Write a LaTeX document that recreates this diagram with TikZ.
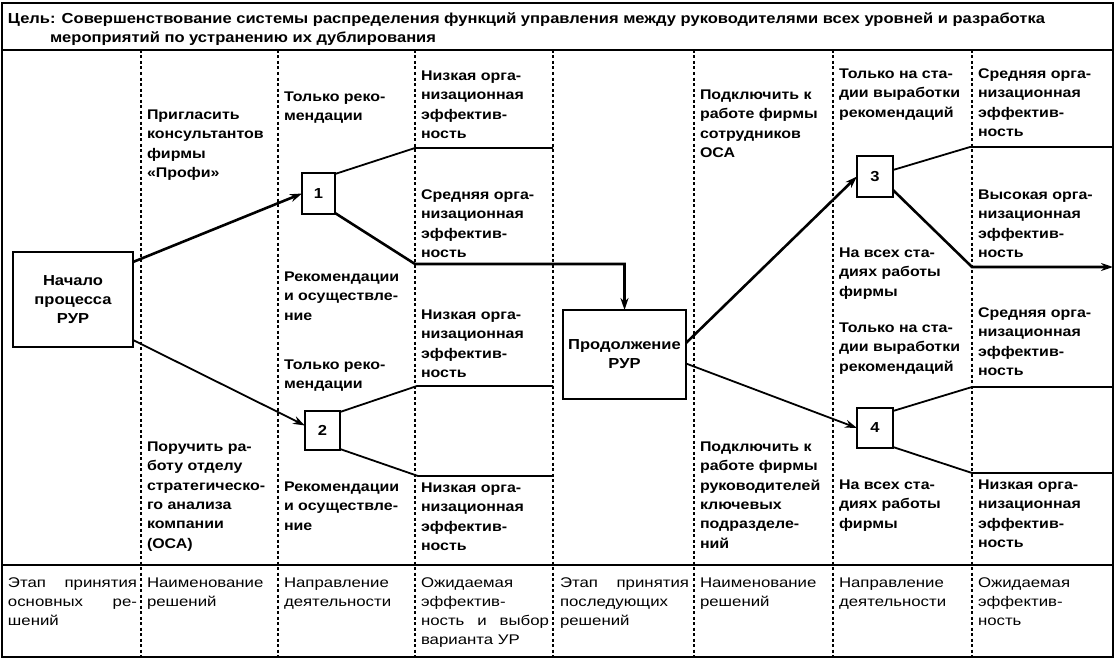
\documentclass[tikz,border=0pt]{standalone}
\usepackage{fontspec}
\setmainfont{Liberation Sans}
\newfontfamily\wideb[FakeStretch=1.14]{Liberation Sans}
\newfontfamily\widebot[FakeStretch=1.2]{Liberation Sans}
\usetikzlibrary{arrows.meta}
\begin{document}
\begin{tikzpicture}[x=1pt,y=-1pt,
  every node/.style={inner sep=0pt,outer sep=0pt},
  txt/.style={anchor=north west,align=left,font=\wideb\bfseries\fontsize{14}{19.3}\selectfont},
  btxt/.style={anchor=north west,align=left,font=\widebot\fontsize{14}{19}\selectfont},
  ttl/.style={anchor=base west,font=\wideb\bfseries\fontsize{14.5}{19}\selectfont},
  boxn/.style={draw,line width=1.6pt,fill=white,align=center,font=\wideb\bfseries\fontsize{14.5}{19}\selectfont},
  dsh/.style={line width=1.2pt,dash pattern=on 3pt off 2.5pt},
  frm/.style={line width=2pt},
  mainl/.style={line width=2.6pt},
  thinl/.style={line width=1.8pt},
  tip/.style={-{Stealth[length=12pt,width=8pt]}}
]
\useasboundingbox (0,0) rectangle (1116,661);
% frame
\draw[frm] (2,3) rectangle (1113,657);
\draw[line width=1.5pt] (2,50) -- (1113,50);
\draw[line width=1.8pt] (2,565) -- (1113,565);
\foreach \x in {141,278,415,553,694,833,972} \draw[dsh] (\x,50) -- (\x,657);
% title
\node[ttl] (t1) at (8,23.5) {Цель: Совершенствование системы распределения функций управления между руководителями всех уровней и разработка};
\node[ttl] (t2) at (50,43) {мероприятий по устранению их дублирования};
% boxes
\node[boxn,minimum width=120pt,minimum height=95pt] (st) at (73,299.5) {Начало\\процесса\\РУР};
\node[boxn,minimum width=33pt,minimum height=41pt] (b1) at (318.5,193.5) {1};
\node[boxn,minimum width=35pt,minimum height=39pt] (b2) at (322.5,430.5) {2};
\node[boxn,minimum width=123pt,minimum height=89pt] (pr) at (624.5,354.5) {Продолжение\\РУР};
\node[boxn,minimum width=36pt,minimum height=41pt] (b3) at (875,176.5) {3};
\node[boxn,minimum width=36pt,minimum height=40pt] (b4) at (875,428) {4};
% coordinates
\coordinate (u1) at (415,148); \coordinate (u1e) at (553,148);
\coordinate (l1) at (415,264);
\coordinate (u2) at (417,386); \coordinate (u2e) at (553,386);
\coordinate (l2) at (418,476); \coordinate (l2e) at (553,476);
\coordinate (u3) at (970,147); \coordinate (u3e) at (1113,147);
\coordinate (l3) at (972,267); \coordinate (l3e) at (1113,267);
\coordinate (u4) at (972,387); \coordinate (u4e) at (1113,387);
\coordinate (l4) at (972,473); \coordinate (l4e) at (1113,473);
% connectors
\draw[mainl,tip] ([yshift=-10pt]st.north east) -- (b1.west);
\draw[thinl,tip] ([yshift=7pt]st.south east) -- ([yshift=5pt]b2.west);
\draw[thinl] ([yshift=-1pt]b1.north east) -- (u1) -- (u1e);
\draw[mainl,tip] ([yshift=1pt]b1.south east) -- (l1) -| (pr.north);
\draw[thinl] ([yshift=-1pt]b2.north east) -- (u2) -- (u2e);
\draw[thinl] ([yshift=1pt]b2.south east) -- (l2) -- (l2e);
\draw[mainl,tip] ([yshift=11.5pt]pr.east) -- (b3.west);
\draw[thinl,tip] ([yshift=-9pt]pr.east) -- (b4.west);
\draw[thinl] ([yshift=-14pt]b3.north east) -- (u3) -- (u3e);
\draw[mainl,tip] ([yshift=7pt]b3.south east) -- (l3) -- (l3e);
\draw[thinl] ([yshift=-3pt]b4.north east) -- (u4) -- (u4e);
\draw[thinl] ([yshift=1pt]b4.south east) -- (l4) -- (l4e);
% texts (first baseline minus 0.7*bskip)
\node[txt] (a1) at (147,{119.5-13.5}) {\strut Пригласить\\консультантов\\фирмы\\«Профи»};
\node[txt] (a2) at (147,{451.5-13.5}) {\strut Поручить ра-\\боту отделу\\стратегическо-\\го анализа\\компании\\(ОСА)};
\node[txt] (c1) at (284,{101.5-13.5}) {\strut Только реко-\\мендации};
\node[txt] (c2) at (284,{281.5-13.5}) {\strut Рекомендации\\и осуществле-\\ние};
\node[txt] (c3) at (284,{369.5-13.5}) {\strut Только реко-\\мендации};
\node[txt] (c4) at (284,{491.5-13.5}) {\strut Рекомендации\\и осуществле-\\ние};
\node[txt] (e1) at (421,{80.5-13.5}) {\strut Низкая орга-\\низационная\\эффектив-\\ность};
\node[txt] (e2) at (421,{199.5-13.5}) {\strut Средняя орга-\\низационная\\эффектив-\\ность};
\node[txt] (e3) at (421,{319.5-13.5}) {\strut Низкая орга-\\низационная\\эффектив-\\ность};
\node[txt] (e4) at (421,{492.5-13.5}) {\strut Низкая орга-\\низационная\\эффектив-\\ность};
\node[txt] (f1) at (700,{99.5-13.5}) {\strut Подключить к\\работе фирмы\\сотрудников\\ОСА};
\node[txt] (f2) at (700,{451.5-13.5}) {\strut Подключить к\\работе фирмы\\руководителей\\ключевых\\подразделе-\\ний};
\node[txt] (g1) at (839,{78.5-13.5}) {\strut Только на ста-\\дии выработки\\рекомендаций};
\node[txt] (g2) at (839,{257.5-13.5}) {\strut На всех ста-\\диях работы\\фирмы};
\node[txt] (g3) at (839,{332.5-13.5}) {\strut Только на ста-\\дии выработки\\рекомендаций};
\node[txt] (g4) at (839,{489.5-13.5}) {\strut На всех ста-\\диях работы\\фирмы};
\node[txt] (h1) at (978,{78.5-13.5}) {\strut Средняя орга-\\низационная\\эффектив-\\ность};
\node[txt] (h2) at (978,{199.5-13.5}) {\strut Высокая орга-\\низационная\\эффектив-\\ность};
\node[txt] (h3) at (978,{317.5-13.5}) {\strut Средняя орга-\\низационная\\эффектив-\\ность};
\node[txt] (h4) at (978,{489.5-13.5}) {\strut Низкая орга-\\низационная\\эффектив-\\ность};
% bottom row
\node[btxt] (k1) at (8,{587-13.3}) {\strut\makebox[129pt][s]{Этап принятия}\\\makebox[129pt][s]{основных ре-}\\шений};
\node[btxt] (k2) at (147,{587-13.3}) {\strut Наименование\\решений};
\node[btxt] (k3) at (284,{587-13.3}) {\strut Направление\\деятельности};
\node[btxt] (k4) at (421,{587-13.3}) {\strut Ожидаемая\\эффектив-\\\makebox[128pt][s]{ность и выбор}\\варианта УР};
\node[btxt] (k5) at (560,{587-13.3}) {\strut\makebox[129pt][s]{Этап принятия}\\последующих\\решений};
\node[btxt] (k6) at (700,{587-13.3}) {\strut Наименование\\решений};
\node[btxt] (k7) at (839,{587-13.3}) {\strut Направление\\деятельности};
\node[btxt] (k8) at (978,{587-13.3}) {\strut Ожидаемая\\эффектив-\\ность};
\end{tikzpicture}
\end{document}
